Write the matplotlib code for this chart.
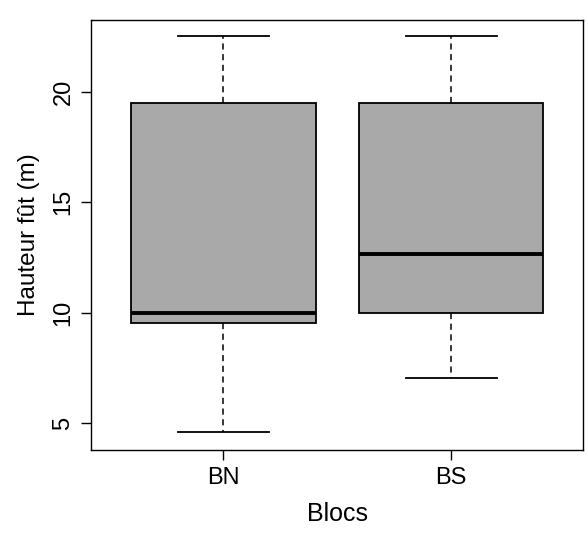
import matplotlib.pyplot as plt

# values
blocs = ['BN', 'BS']
whis_lo = [4.6, 7.05]
q1 = [9.55, 10.0]
medians = [10.0, 12.66]
q3 = [19.5, 19.5]
whis_hi = [22.5, 22.5]

plt.rcParams['font.family'] = ['Liberation Sans', 'DejaVu Sans']

fig = plt.figure(figsize=(5.88, 5.33), dpi=100, facecolor='white')
ax = fig.add_axes([0.155, 0.155, 0.837, 0.808])

stats = []
for i, name in enumerate(blocs):
    stats.append({'label': name, 'whislo': whis_lo[i], 'q1': q1[i],
                  'med': medians[i], 'q3': q3[i], 'whishi': whis_hi[i],
                  'fliers': []})

ax.bxp(stats, positions=[1, 2], widths=0.81, patch_artist=True,
       showfliers=False,
       boxprops=dict(facecolor='#a9a9a9', edgecolor='black', linewidth=1.3),
       medianprops=dict(color='black', linewidth=2.8),
       whiskerprops=dict(color='black', linewidth=1.1, linestyle=(0, (4, 3))),
       capprops=dict(color='black', linewidth=1.3),
       capwidths=0.4)

ax.set_xlim(0.42, 2.58)
ax.set_ylim(3.78, 23.25)
ax.set_yticks([5, 10, 15, 20])
ax.set_xticks([1, 2])
ax.set_xticklabels(blocs)

for lbl in ax.get_yticklabels():
    lbl.set_rotation(90)
    lbl.set_va('center')

ax.tick_params(axis='both', labelsize=17, length=7, width=1, direction='out', pad=5)
ax.set_ylabel('Hauteur fût (m)', fontsize=17.5, labelpad=9)
ax.set_xlabel('Blocs', fontsize=18, labelpad=9)

for s in ax.spines.values():
    s.set_linewidth(1)
    s.set_color('black')

fig.savefig('out.png', dpi=100, facecolor='white')
